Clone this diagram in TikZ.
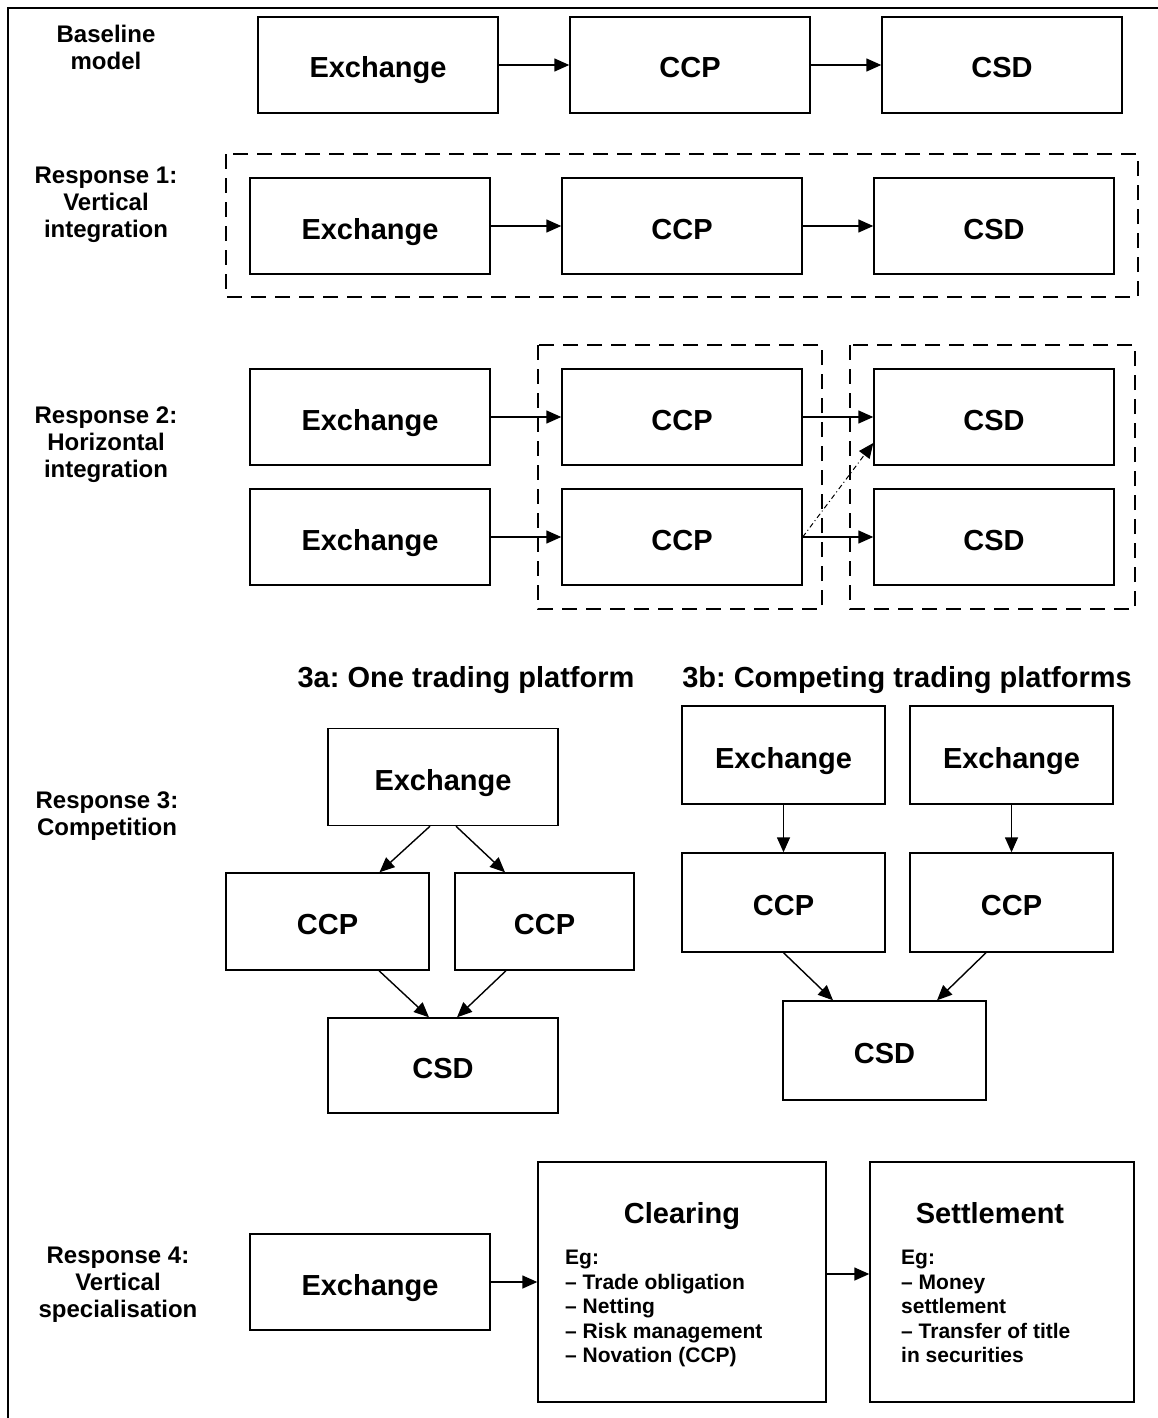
\documentclass[tikz,border=0pt]{standalone}
\usepackage{fontspec}
\setmainfont{Liberation Sans}
\usetikzlibrary{arrows.meta}
\frenchspacing

\tikzset{
  box/.style={draw, line width=1.4pt, inner sep=0pt, minimum width=240pt, minimum height=96pt, text height=26pt, text depth=0pt, font=\fontsize{29}{32}\selectfont\bfseries},
  grp/.style={draw, line width=2pt, dash pattern=on 15pt off 9pt},
  arr/.style={line width=1.4pt, -{Triangle[length=15pt,width=13pt]}},
  lbl/.style={align=center, inner sep=0pt, font=\fontsize{24}{27}\selectfont\bfseries},
  head/.style={inner sep=0pt, text height=21pt, text depth=0pt, font=\fontsize{29}{33}\selectfont\bfseries},
  body/.style={align=left, inner sep=0pt, anchor=north west, font=\fontsize{21}{24.5}\selectfont\bfseries},
}

\begin{document}
\begin{tikzpicture}[x=1pt,y=-1pt]
\useasboundingbox (0,0) rectangle (1158,1418);
\draw[line width=2pt] (8,1418) -- (8,8) -- (1158,8);

% baseline
\node[lbl] (lb0) at (106,47) {Baseline\\model};
\node[box] (ex0) at (378,65) {Exchange};
\node[box] (ccp0) at (690,65) {CCP};
\node[box] (csd0) at (1002,65) {CSD};
\draw[arr] (ex0) -- (ccp0);
\draw[arr] (ccp0) -- (csd0);

% response 1
\draw[grp] (226,154) rectangle (1138,297);
\node[lbl] (lb1) at (106,205) {Response 1:\\Vertical\\integration};
\node[box] (ex1) at (370,226) {Exchange};
\node[box] (ccp1) at (682,226) {CCP};
\node[box] (csd1) at (994,226) {CSD};
\draw[arr] (ex1) -- (ccp1);
\draw[arr] (ccp1) -- (csd1);

% response 2
\draw[grp] (538,345) rectangle (822,609);
\draw[grp] (850,345) rectangle (1135,609);
\node[lbl] (lb2) at (106,445) {Response 2:\\Horizontal\\integration};
\foreach \r/\y in {a/417,b/537} {
  \node[box] (ex2\r) at (370,\y) {Exchange};
  \node[box] (ccp2\r) at (682,\y) {CCP};
  \node[box] (csd2\r) at (994,\y) {CSD};
  \draw[arr] (ex2\r) -- (ccp2\r);
  \draw[arr] (ccp2\r) -- (csd2\r);
}
\draw[arr, line width=1pt, dash pattern=on 5pt off 3pt on 1pt off 3pt] (ccp2b.east) -- ([yshift=-26pt]csd2a.west);

% response 3
\node[lbl] (lb3) at (107,816) {Response 3:\\Competition};
\node[head] (hda) at (466,677) {3a: One trading platform};
\node[head] (hdb) at (907,677) {3b: Competing trading platforms};

\node[box, minimum width=230pt, minimum height=97pt] (exa) at (443,777) {Exchange};
\node[box, minimum width=203pt, minimum height=97pt] (ccpa1) at (327.5,921.5) {CCP};
\node[box, minimum width=179pt, minimum height=97pt] (ccpa2) at (544.5,921.5) {CCP};
\node[box, minimum width=230pt, minimum height=95pt] (csda) at (443,1065.5) {CSD};
\draw[arr] ([xshift=-13pt]exa.south) -- ([xshift=52pt]ccpa1.north);
\draw[arr] ([xshift=13pt]exa.south) -- ([xshift=-39.5pt]ccpa2.north);
\draw[arr] ([xshift=51.5pt]ccpa1.south) -- ([xshift=-14pt]csda.north);
\draw[arr] ([xshift=-38.5pt]ccpa2.south) -- ([xshift=14pt]csda.north);

\node[box, minimum width=203pt, minimum height=98pt] (exb1) at (783.5,755) {Exchange};
\node[box, minimum width=203pt, minimum height=98pt] (exb2) at (1011.5,755) {Exchange};
\node[box, minimum width=203pt, minimum height=99pt] (ccpb1) at (783.5,902.5) {CCP};
\node[box, minimum width=203pt, minimum height=99pt] (ccpb2) at (1011.5,902.5) {CCP};
\node[box, minimum width=203pt, minimum height=99pt] (csdb) at (884.5,1050.5) {CSD};
\draw[arr] (exb1) -- (ccpb1);
\draw[arr] (exb2) -- (ccpb2);
\draw[arr] (ccpb1.south) -- ([xshift=-51.5pt]csdb.north);
\draw[arr] ([xshift=-25.5pt]ccpb2.south) -- ([xshift=52.5pt]csdb.north);

% response 4
\node[lbl] (lb4) at (118,1285) {Response 4:\\Vertical\\specialisation};
\node[box] (ex4) at (370,1282) {Exchange};
\node[box, minimum width=288pt, minimum height=240pt] (clr) at (682,1282) {};
\node[box, minimum width=264pt, minimum height=240pt] (stl) at (1002,1282) {};
\node[head] (clrt) at (682,1213) {Clearing};
\node[body] (clrb) at (565,1250) {Eg:\\– Trade obligation\\– Netting\\– Risk management\\– Novation (CCP)};
\node[head] (stlt) at (990,1213) {Settlement};
\node[body] (stlb) at (901,1250) {Eg:\\– Money\\settlement\\– Transfer of title\\in securities};
\draw[arr] (ex4) -- (clr);
\draw[arr] ([yshift=8pt]clr.east) -- ([yshift=8pt]stl.west);
\end{tikzpicture}
\end{document}
